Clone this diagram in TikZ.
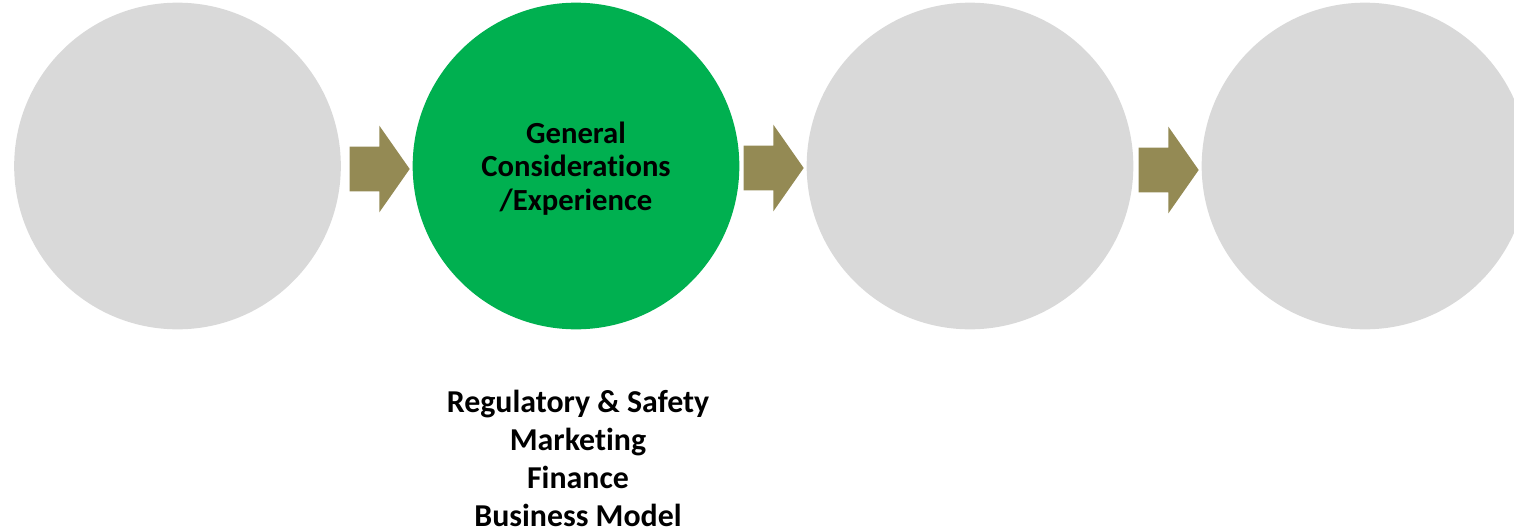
\documentclass[tikz,border=0pt]{standalone}
\usepackage{fontspec}
\setmainfont{Carlito}[Ligatures=NoCommon]
\usetikzlibrary{shapes.arrows}
\definecolor{stagegray}{HTML}{D9D9D9}
\definecolor{stagegreen}{HTML}{00B050}
\definecolor{flowolive}{HTML}{948A54}

\begin{document}
\begin{tikzpicture}[x=0.75pt, y=-0.75pt,
    stage/.style={circle, fill=stagegray, minimum size=245pt, inner sep=0pt},
    flow/.style={single arrow, fill=flowolive, minimum height=45pt,
                 minimum width=64.5pt, single arrow head extend=15.75pt,
                 single arrow tip angle=110, inner xsep=0pt, inner ysep=16.5pt,
                 anchor=tip}]

  % === Page frame ===
  \useasboundingbox (0,0) rectangle (1514,532);
  \clip (0,0) rectangle (1514,532);

  % === Stages ===
  \node[stage] (first)  at (177.5,166) {};
  \node[stage, fill=stagegreen] (general) at (576,166) {};
  \node[align=center, inner sep=0pt,
        font=\fontsize{23}{25}\selectfont\bfseries] (generaltext)
        at (576,168.5) {General\\Considerations\\/Experience};
  \node[stage] (third)  at (970,166) {};
  \node[stage] (fourth) at (1365,166) {};

  % === Block arrows between stages (placed by their tips) ===
  \node[flow] (step1) at (410,169) {};
  \node[flow] (step2) at (804,168) {};
  \node[flow] (step3) at (1199,170) {};

  % === Topics under the green stage ===
  \node[align=center, inner sep=0pt,
        font=\fontsize{23.9}{28.5}\selectfont\bfseries] (topics)
        at (578,458.5)
        {Regulatory \& Safety\\Marketing\\Finance\\Business Model};

\end{tikzpicture}
\end{document}
